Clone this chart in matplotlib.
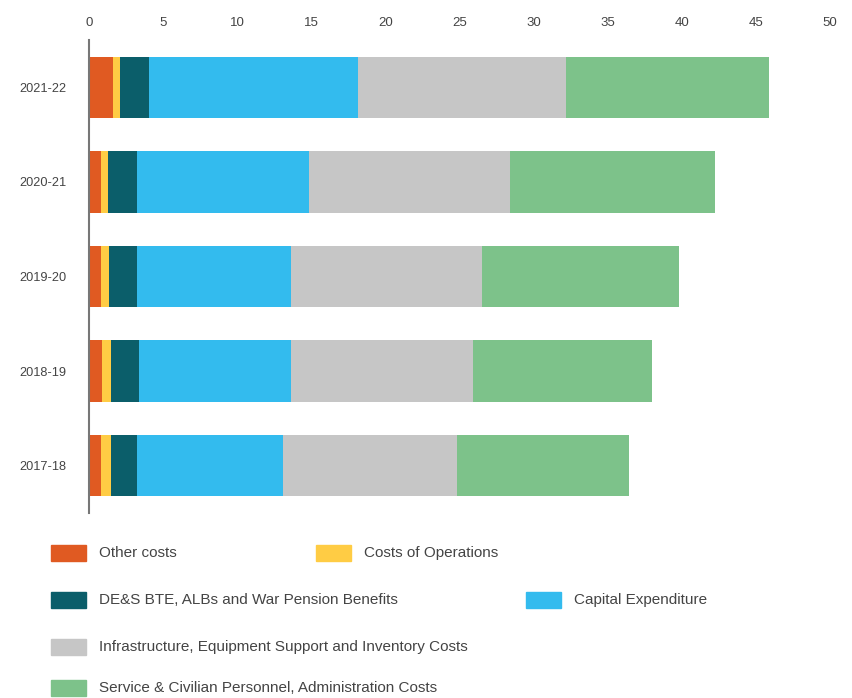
import matplotlib.pyplot as plt
from matplotlib.patches import Rectangle

plt.rcParams['font.family'] = ['Liberation Sans', 'DejaVu Sans']

years = ['2017-18', '2018-19', '2019-20', '2020-21', '2021-22']
other_costs = [0.78, 0.91, 0.78, 0.78, 1.6]
costs_of_operations = [0.72, 0.59, 0.58, 0.49, 0.47]
des_bte = [1.73, 1.86, 1.87, 1.96, 1.96]
capital_exp = [9.83, 10.24, 10.37, 11.65, 14.14]
infrastructure = [11.8, 12.3, 12.9, 13.56, 14.0]
personnel = [11.6, 12.1, 13.3, 13.83, 13.7]

series = [
    ('Other costs', other_costs, '#E05A22'),
    ('Costs of Operations', costs_of_operations, '#FFCC44'),
    ('DE&S BTE, ALBs and War Pension Benefits', des_bte, '#0B5E6A'),
    ('Capital Expenditure', capital_exp, '#33BBEE'),
    ('Infrastructure, Equipment Support and Inventory Costs', infrastructure, '#C6C6C6'),
    ('Service & Civilian Personnel, Administration Costs', personnel, '#7DC28A'),
]

fig = plt.figure(figsize=(8.53, 6.98), dpi=100)
ax = fig.add_axes([0.1043, 0.265, 0.8687, 0.6777])

left = [0.0] * len(years)
for name, vals, col in series:
    ax.barh(years, vals, left=left, height=0.65, color=col, label=name)
    left = [a + b for a, b in zip(left, vals)]

ax.set_xlim(0, 50)
ax.set_ylim(-0.5, 4.5)
ax.set_xticks(range(0, 51, 5))
ax.xaxis.tick_top()
ax.tick_params(axis='x', length=0, labelsize=9.5, colors='#444444', pad=8)
ax.tick_params(axis='y', length=0, labelsize=9.2, colors='#444444', pad=16.5)
for s in ['top', 'right', 'bottom']:
    ax.spines[s].set_visible(False)
ax.spines['left'].set_color('#777777')
ax.spines['left'].set_linewidth(1.5)

# legend laid out like the original (irregular columns)
W, H = 853.0, 698.0
spots = [(51, 553), (316, 553), (51, 600), (526, 600), (51, 647), (51, 688)]
for (name, vals, col), (px, py) in zip(series, spots):
    fig.patches.append(Rectangle((px / W, 1 - (py + 8) / H), 35 / W, 16 / H,
                                 transform=fig.transFigure, color=col))
    fig.text((px + 48) / W, 1 - py / H, name, fontsize=11, color='#444444',
             va='center', ha='left')

fig.savefig('out.png', dpi=100)
